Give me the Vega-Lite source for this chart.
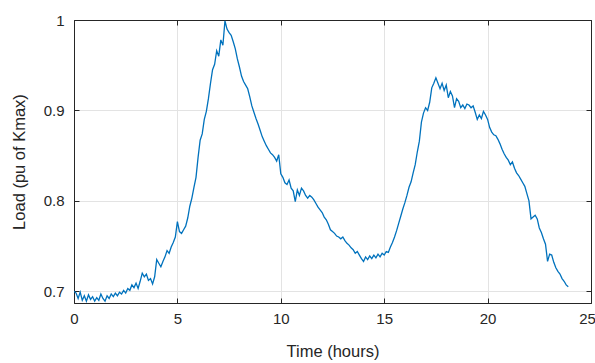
{
  "$schema": "https://vega.github.io/schema/vega-lite/v6.json",
  "autosize": "none",
  "padding": {"left": 74, "top": 20, "right": 4, "bottom": 60},
  "width": 517,
  "height": 283,
  "background": "white",
  "config": {
    "view": {"stroke": "#262626", "strokeWidth": 1},
    "axis": {
      "labelFont": "Liberation Sans",
      "titleFont": "Liberation Sans",
      "labelFontSize": 15,
      "titleFontSize": 16.5,
      "titleFontWeight": "normal",
      "labelColor": "#262626",
      "titleColor": "#262626",
      "domainColor": "#262626",
      "tickColor": "#262626",
      "gridColor": "#e3e3e3",
      "gridWidth": 1,
      "labelFlush": false,
      "labelOverlap": false
    }
  },
  "data": {
    "values": [
      {"t":0.0,"load":0.700},{"t":0.1,"load":0.698},{"t":0.2,"load":0.692},{"t":0.3,"load":0.699},{"t":0.4,"load":0.690},
      {"t":0.5,"load":0.695},{"t":0.6,"load":0.689},{"t":0.7,"load":0.696},{"t":0.8,"load":0.691},{"t":0.9,"load":0.694},
      {"t":1.0,"load":0.689},{"t":1.1,"load":0.693},{"t":1.2,"load":0.690},{"t":1.3,"load":0.697},{"t":1.4,"load":0.692},
      {"t":1.5,"load":0.689},{"t":1.6,"load":0.695},{"t":1.7,"load":0.692},{"t":1.8,"load":0.697},{"t":1.9,"load":0.694},
      {"t":2.0,"load":0.698},{"t":2.1,"load":0.695},{"t":2.2,"load":0.699},{"t":2.3,"load":0.697},{"t":2.4,"load":0.701},
      {"t":2.5,"load":0.698},{"t":2.6,"load":0.703},{"t":2.7,"load":0.701},{"t":2.8,"load":0.707},{"t":2.9,"load":0.704},
      {"t":3.0,"load":0.709},{"t":3.1,"load":0.703},{"t":3.2,"load":0.711},{"t":3.3,"load":0.720},{"t":3.4,"load":0.716},
      {"t":3.5,"load":0.719},{"t":3.6,"load":0.712},{"t":3.7,"load":0.714},{"t":3.8,"load":0.708},{"t":3.9,"load":0.716},
      {"t":4.0,"load":0.735},{"t":4.1,"load":0.731},{"t":4.2,"load":0.727},{"t":4.3,"load":0.733},{"t":4.4,"load":0.738},
      {"t":4.5,"load":0.745},{"t":4.6,"load":0.742},{"t":4.7,"load":0.749},{"t":4.8,"load":0.754},{"t":4.9,"load":0.760},
      {"t":5.0,"load":0.777},{"t":5.1,"load":0.766},{"t":5.2,"load":0.764},{"t":5.3,"load":0.768},{"t":5.4,"load":0.772},
      {"t":5.5,"load":0.781},{"t":5.6,"load":0.794},{"t":5.7,"load":0.803},{"t":5.8,"load":0.815},{"t":5.9,"load":0.826},
      {"t":6.0,"load":0.848},{"t":6.1,"load":0.867},{"t":6.2,"load":0.874},{"t":6.3,"load":0.890},{"t":6.4,"load":0.899},
      {"t":6.5,"load":0.913},{"t":6.6,"load":0.930},{"t":6.7,"load":0.945},{"t":6.8,"load":0.951},{"t":6.9,"load":0.966},
      {"t":7.0,"load":0.960},{"t":7.1,"load":0.978},{"t":7.2,"load":0.972},{"t":7.3,"load":0.999},{"t":7.4,"load":0.990},
      {"t":7.5,"load":0.986},{"t":7.6,"load":0.983},{"t":7.7,"load":0.976},{"t":7.8,"load":0.968},{"t":7.9,"load":0.957},
      {"t":8.0,"load":0.948},{"t":8.1,"load":0.938},{"t":8.2,"load":0.932},{"t":8.3,"load":0.928},{"t":8.4,"load":0.924},
      {"t":8.5,"load":0.915},{"t":8.6,"load":0.905},{"t":8.7,"load":0.898},{"t":8.8,"load":0.891},{"t":8.9,"load":0.885},
      {"t":9.0,"load":0.878},{"t":9.1,"load":0.871},{"t":9.2,"load":0.866},{"t":9.3,"load":0.861},{"t":9.4,"load":0.857},
      {"t":9.5,"load":0.853},{"t":9.6,"load":0.851},{"t":9.7,"load":0.848},{"t":9.8,"load":0.844},{"t":9.9,"load":0.851},
      {"t":10.0,"load":0.830},{"t":10.1,"load":0.826},{"t":10.2,"load":0.820},{"t":10.3,"load":0.818},{"t":10.4,"load":0.823},
      {"t":10.5,"load":0.814},{"t":10.6,"load":0.811},{"t":10.7,"load":0.799},{"t":10.8,"load":0.812},{"t":10.9,"load":0.806},
      {"t":11.0,"load":0.814},{"t":11.1,"load":0.811},{"t":11.2,"load":0.806},{"t":11.3,"load":0.803},{"t":11.4,"load":0.806},
      {"t":11.5,"load":0.804},{"t":11.6,"load":0.801},{"t":11.7,"load":0.797},{"t":11.8,"load":0.793},{"t":11.9,"load":0.790},
      {"t":12.0,"load":0.787},{"t":12.1,"load":0.782},{"t":12.2,"load":0.779},{"t":12.3,"load":0.774},{"t":12.4,"load":0.768},
      {"t":12.5,"load":0.766},{"t":12.6,"load":0.764},{"t":12.7,"load":0.761},{"t":12.8,"load":0.760},{"t":12.9,"load":0.758},
      {"t":13.0,"load":0.760},{"t":13.1,"load":0.756},{"t":13.2,"load":0.753},{"t":13.3,"load":0.751},{"t":13.4,"load":0.748},
      {"t":13.5,"load":0.746},{"t":13.6,"load":0.742},{"t":13.7,"load":0.744},{"t":13.8,"load":0.740},{"t":13.9,"load":0.736},
      {"t":14.0,"load":0.733},{"t":14.1,"load":0.738},{"t":14.2,"load":0.735},{"t":14.3,"load":0.739},{"t":14.4,"load":0.736},
      {"t":14.5,"load":0.740},{"t":14.6,"load":0.737},{"t":14.7,"load":0.741},{"t":14.8,"load":0.738},{"t":14.9,"load":0.742},
      {"t":15.0,"load":0.740},{"t":15.1,"load":0.744},{"t":15.2,"load":0.743},{"t":15.3,"load":0.749},{"t":15.4,"load":0.754},
      {"t":15.5,"load":0.760},{"t":15.6,"load":0.767},{"t":15.7,"load":0.775},{"t":15.8,"load":0.783},{"t":15.9,"load":0.791},
      {"t":16.0,"load":0.798},{"t":16.1,"load":0.806},{"t":16.2,"load":0.815},{"t":16.3,"load":0.821},{"t":16.4,"load":0.831},
      {"t":16.5,"load":0.840},{"t":16.6,"load":0.854},{"t":16.7,"load":0.866},{"t":16.8,"load":0.887},{"t":16.9,"load":0.897},
      {"t":17.0,"load":0.903},{"t":17.1,"load":0.900},{"t":17.2,"load":0.909},{"t":17.3,"load":0.925},{"t":17.4,"load":0.930},
      {"t":17.5,"load":0.936},{"t":17.6,"load":0.930},{"t":17.7,"load":0.924},{"t":17.8,"load":0.930},{"t":17.9,"load":0.922},
      {"t":18.0,"load":0.928},{"t":18.1,"load":0.914},{"t":18.2,"load":0.921},{"t":18.3,"load":0.916},{"t":18.4,"load":0.903},
      {"t":18.5,"load":0.913},{"t":18.6,"load":0.910},{"t":18.7,"load":0.903},{"t":18.8,"load":0.906},{"t":18.9,"load":0.902},
      {"t":19.0,"load":0.907},{"t":19.1,"load":0.906},{"t":19.2,"load":0.903},{"t":19.3,"load":0.905},{"t":19.4,"load":0.898},
      {"t":19.5,"load":0.890},{"t":19.6,"load":0.895},{"t":19.7,"load":0.891},{"t":19.8,"load":0.899},{"t":19.9,"load":0.895},
      {"t":20.0,"load":0.890},{"t":20.1,"load":0.881},{"t":20.2,"load":0.876},{"t":20.3,"load":0.873},{"t":20.4,"load":0.872},
      {"t":20.5,"load":0.868},{"t":20.6,"load":0.863},{"t":20.7,"load":0.857},{"t":20.8,"load":0.852},{"t":20.9,"load":0.848},
      {"t":21.0,"load":0.845},{"t":21.1,"load":0.840},{"t":21.2,"load":0.843},{"t":21.3,"load":0.836},{"t":21.4,"load":0.831},
      {"t":21.5,"load":0.828},{"t":21.6,"load":0.824},{"t":21.7,"load":0.820},{"t":21.8,"load":0.816},{"t":21.9,"load":0.808},
      {"t":22.0,"load":0.800},{"t":22.1,"load":0.780},{"t":22.2,"load":0.782},{"t":22.3,"load":0.784},{"t":22.4,"load":0.780},
      {"t":22.5,"load":0.770},{"t":22.6,"load":0.765},{"t":22.7,"load":0.758},{"t":22.8,"load":0.752},{"t":22.9,"load":0.733},
      {"t":23.0,"load":0.741},{"t":23.1,"load":0.740},{"t":23.2,"load":0.732},{"t":23.3,"load":0.726},{"t":23.4,"load":0.722},
      {"t":23.5,"load":0.719},{"t":23.6,"load":0.714},{"t":23.7,"load":0.711},{"t":23.8,"load":0.707},{"t":23.9,"load":0.705}
    ]
  },
  "layer": [
    {
      "mark": {"type": "line", "color": "#0072BD", "strokeWidth": 1.3, "clip": true},
      "encoding": {
        "x": {"field": "t", "type": "quantitative", "scale": {"domain": [0, 25], "nice": false, "zero": false},
          "axis": {"title": "Time (hours)", "values": [0, 5, 10, 15, 20, 25], "tickSize": -5, "labelPadding": 13, "titlePadding": 17, "grid": true,
            "labelOffset": {"condition": {"test": "datum.value == 25", "value": -4}, "value": 0}}},
        "y": {"field": "load", "type": "quantitative", "scale": {"domain": [0.687, 1.0], "nice": false, "zero": false},
          "axis": {"title": "Load (pu of Kmax)", "values": [0.7, 0.8, 0.9, 1.0], "format": ".1~f", "tickSize": -5, "labelPadding": 15, "titlePadding": 16, "grid": true}}
      }
    },
    {
      "mark": {"type": "line", "strokeOpacity": 0},
      "encoding": {
        "x": {"field": "t", "type": "quantitative", "scale": {"domain": [0, 25], "nice": false, "zero": false},
          "axis": {"orient": "top", "title": null, "labels": false, "values": [0, 5, 10, 15, 20, 25], "tickSize": -5, "grid": false}},
        "y": {"field": "load", "type": "quantitative", "scale": {"domain": [0.687, 1.0], "nice": false, "zero": false},
          "axis": {"orient": "right", "title": null, "labels": false, "values": [0.7, 0.8, 0.9, 1.0], "tickSize": -5, "grid": false}}
      }
    }
  ],
  "resolve": {"axis": {"x": "independent", "y": "independent"}}
}
